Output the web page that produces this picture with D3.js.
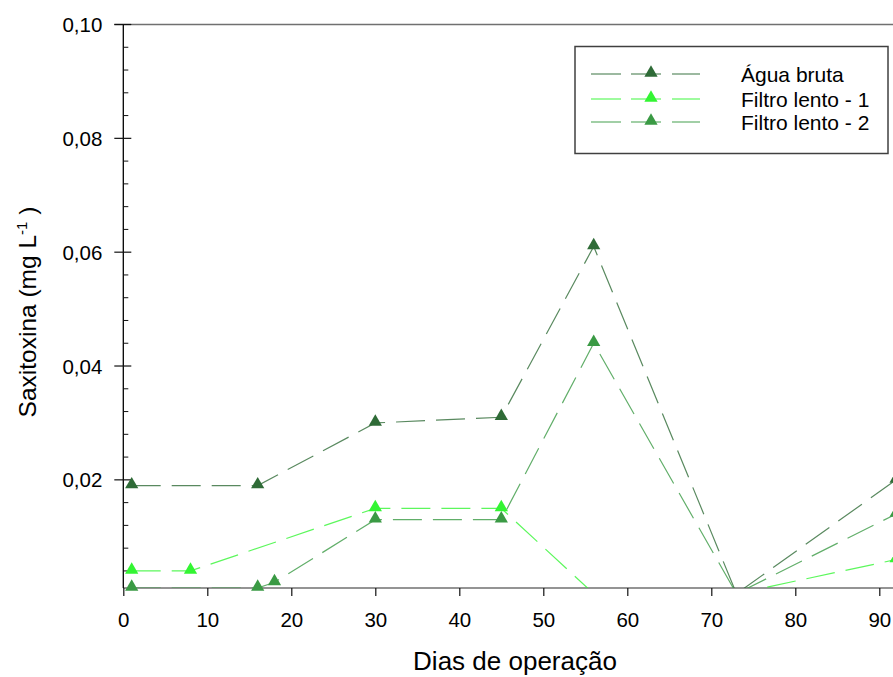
<!DOCTYPE html>
<html>
<head>
<meta charset="utf-8">
<script src="https://cdn.jsdelivr.net/npm/d3@7"></script>
<style>
  html, body { margin: 0; padding: 0; background: #fff; }
  svg { display: block; font-family: "Liberation Sans", Arial, sans-serif; }
</style>
</head>
<body>
<svg id="chart" width="893" height="677"></svg>
<script>
// Saxitoxin concentration over operating days
const aguaDays   = [1, 16, 30, 45, 56, 73, 92];
const aguaVals   = [0.019, 0.019, 0.030, 0.031, 0.061, 0.0, 0.020];
const lento1Days = [1, 8, 30, 45, 56, 73, 92];
const lento1Vals = [0.004, 0.004, 0.015, 0.015, 0.0, 0.0, 0.006];
const lento2Days = [1, 16, 18, 30, 45, 56, 73, 92];
const lento2Vals = [0.001, 0.001, 0.002, 0.013, 0.013, 0.044, 0.0, 0.014];

const seriesNames = ["Água bruta", "Filtro lento - 1", "Filtro lento - 2"];
const xTicks = [0, 10, 20, 30, 40, 50, 60, 70, 80, 90];
const yTicks = [0.02, 0.04, 0.06, 0.08, 0.10];

const colors = ["#2f6b37", "#33f533", "#3a9a44"];
const series = [
  { name: seriesNames[0], color: colors[0], pts: aguaDays.map((d, i) => ({ x: d, y: aguaVals[i] })) },
  { name: seriesNames[1], color: colors[1], pts: lento1Days.map((d, i) => ({ x: d, y: lento1Vals[i] })) },
  { name: seriesNames[2], color: colors[2], pts: lento2Days.map((d, i) => ({ x: d, y: lento2Vals[i] })) }
];

const svg = d3.select("#chart");
const x = d3.scaleLinear().domain([0, 100]).range([123.3, 963.3]);
const y = d3.scaleLinear().domain([0.001, 0.10]).range([588, 24.5]);
const yMin = y.domain()[0];

// plot area clip (data lines stay above the x axis)
svg.append("defs").append("clipPath").attr("id", "plotClip")
  .append("rect")
  .attr("x", x(0)).attr("y", y(0.10))
  .attr("width", x(100) - x(0)).attr("height", y(yMin) - y(0.10));

// top frame
svg.append("line")
  .attr("x1", x(0) - 9).attr("x2", 893)
  .attr("y1", y(0.10)).attr("y2", y(0.10))
  .attr("stroke", "#707070").attr("stroke-width", 1.5);

// x axis
const xAxis = d3.axisBottom(x).tickValues(xTicks).tickSize(8).tickPadding(16)
  .tickFormat(d3.format("d"));
const gx = svg.append("g").attr("transform", `translate(0,${y(yMin)})`).call(xAxis);
gx.select(".domain").attr("stroke", "#707070").attr("stroke-width", 1.5)
  .attr("d", `M${x(0)},0H${x(100)}`);
gx.selectAll(".tick line").attr("stroke", "#111").attr("stroke-width", 1.2);
gx.selectAll(".tick text").attr("font-size", 20.5).attr("fill", "#000")
  .attr("font-family", "Liberation Sans, Arial, sans-serif");

// y axis: major ticks cross the axis, minor ticks point inward
const gy = svg.append("g").attr("transform", `translate(${x(0)},0)`);
gy.append("line").attr("x1", 0).attr("x2", 0)
  .attr("y1", y(0.10)).attr("y2", y(yMin))
  .attr("stroke", "#000").attr("stroke-width", 1.3);
const minorTicks = d3.range(0.004, 0.1, 0.004).filter(v => Math.abs(v * 50 - Math.round(v * 50)) > 1e-6);
gy.selectAll("line.minor").data(minorTicks).join("line")
  .attr("class", "minor")
  .attr("x1", 0).attr("x2", 5)
  .attr("y1", d => y(d)).attr("y2", d => y(d))
  .attr("stroke", "#111").attr("stroke-width", 1);
gy.selectAll("line.major").data(yTicks).join("line")
  .attr("class", "major")
  .attr("x1", -9).attr("x2", 8)
  .attr("y1", d => y(d)).attr("y2", d => y(d))
  .attr("stroke", "#111").attr("stroke-width", 1.2);
const fmtY = d => d3.format(".2f")(d).replace(".", ",");
gy.selectAll("text.ylab").data(yTicks).join("text")
  .attr("class", "ylab")
  .attr("x", -21).attr("y", d => y(d) + 7.5)
  .attr("text-anchor", "end").attr("font-size", 20.5)
  .text(fmtY);

// axis titles
svg.append("text")
  .attr("x", 515).attr("y", 670)
  .attr("text-anchor", "middle").attr("font-size", 26)
  .text("Dias de operação");

const yt = svg.append("text")
  .attr("transform", "translate(36,312) rotate(-90)")
  .attr("text-anchor", "middle").attr("font-size", 24.5);
yt.append("tspan").text("Saxitoxina (mg L");
yt.append("tspan").attr("font-size", 15).attr("dy", -9).text("-1");
yt.append("tspan").attr("dy", 9).text(" )");

// data lines
const line = d3.line().x(d => x(d.x)).y(d => y(d.y));
const plot = svg.append("g").attr("clip-path", "url(#plotClip)");
series.forEach(s => {
  plot.append("path")
    .datum(s.pts)
    .attr("d", line)
    .attr("fill", "none")
    .attr("stroke", s.color)
    .attr("stroke-width", 1.2)
    .attr("stroke-opacity", 0.8)
    .attr("stroke-dasharray", "29,11");
});

// markers (only points inside the y range are drawn)
const tri = d3.symbol().type(d3.symbolTriangle).size(76);
series.forEach(s => {
  svg.append("g").selectAll("path")
    .data(s.pts.filter(p => p.y >= yMin))
    .join("path")
    .attr("d", tri)
    .attr("transform", p => `translate(${x(p.x)},${y(p.y) - 1})`)
    .attr("fill", s.color);
});

// legend
const lg = svg.append("g");
lg.append("rect")
  .attr("x", 575).attr("y", 46.5).attr("width", 313).attr("height", 107)
  .attr("fill", "#fff").attr("stroke", "#404040").attr("stroke-width", 1.5);
const rowY = [74, 99, 122];
series.forEach((s, i) => {
  const yy = rowY[i];
  [[591, 621], [631, 661], [672, 700]].forEach(seg => {
    lg.append("line")
      .attr("x1", seg[0]).attr("x2", seg[1]).attr("y1", yy).attr("y2", yy)
      .attr("stroke", s.color).attr("stroke-width", 1.2).attr("stroke-opacity", 0.8);
  });
  lg.append("path").attr("d", tri)
    .attr("transform", `translate(651,${yy - 1})`).attr("fill", s.color);
  lg.append("text")
    .attr("x", 741).attr("y", yy + 7.5)
    .attr("font-size", 21)
    .text(s.name);
});
</script>
</body>
</html>
